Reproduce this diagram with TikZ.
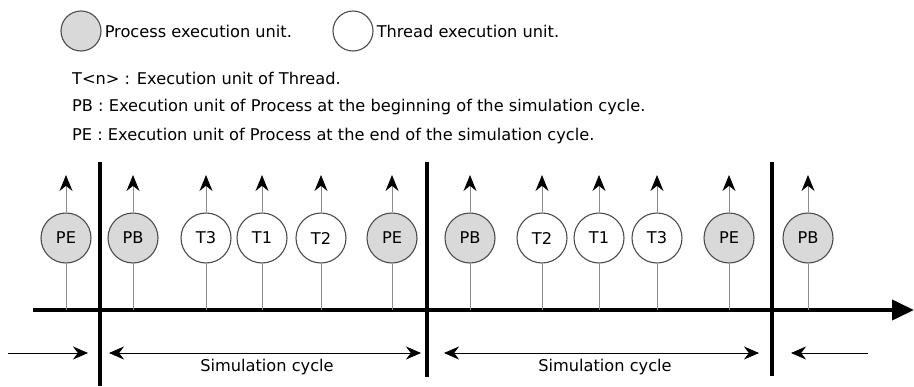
\documentclass[tikz,border=0pt]{standalone}
\usepackage{fontspec}
\setmainfont{DejaVu Sans}
\usetikzlibrary{arrows.meta}

\begin{document}
\begin{tikzpicture}[x=1pt, y=-1pt, font=\fontsize{16.2}{19}\selectfont]
  % Define colors
  \colorlet{procfill}{black!15}
  \colorlet{threadfill}{white}
  \colorlet{unitborder}{black!70}
  \colorlet{stemcolor}{black!45}

  % Styles
  \tikzset{
    unit/.style={circle, draw=unitborder, line width=1.1pt, minimum size=50pt, inner sep=0pt},
    legendunit/.style={unit, minimum size=40pt},
    stem/.style={draw=stemcolor, line width=1pt},
    upstem/.style={stem, -{Stealth[black, length=16pt, width=13pt]}},
    bar/.style={line width=4pt},
    span/.style={line width=0.9pt, {Stealth[length=15pt, width=13pt]}-{Stealth[length=15pt, width=13pt]}},
    side/.style={line width=0.9pt, -{Stealth[length=15pt, width=13pt]}},
    legendtext/.style={anchor=west, inner sep=3pt}
  }

  \useasboundingbox (0,0) rectangle (914,386);

  % Legend
  \node[legendunit, fill=procfill] (legproc) at (81,31) {};
  \node[legendtext] (legproctxt) at (legproc.east) {Process execution unit.};
  \node[legendunit, fill=threadfill] (legthread) at (353,31) {};
  \node[legendtext] (legthreadtxt) at (legthread.east) {Thread execution unit.};

  \node[legendtext] (descT) at (69,78) {T<n> : Execution unit of Thread.};
  \node[legendtext] (descPB) at (69,107) {PB : Execution unit of Process at the beginning of the simulation cycle.};
  \node[legendtext] (descPE) at (69,136) {PE : Execution unit of Process at the end of the simulation cycle.};

  % Time axis
  \coordinate (axstart) at (33,310);
  \coordinate (axend) at (914,310);
  \draw[bar, -{Stealth[length=22pt, width=20pt, inset=0pt]}] (axstart) -- (axend);

  % Cycle boundaries
  \coordinate (bnd1top) at (100,162);
  \coordinate (bnd1bot) at (100,386);
  \coordinate (bnd2top) at (427,162);
  \coordinate (bnd2bot) at (427,377);
  \coordinate (bnd3top) at (772,162);
  \coordinate (bnd3bot) at (772,376);
  \draw[bar] (bnd1top) -- (bnd1bot);
  \draw[bar] (bnd2top) -- (bnd2bot);
  \draw[bar] (bnd3top) -- (bnd3bot);

  % Execution units on the time axis
  \foreach \nm/\x/\txt/\fc in {pe0/66/PE/procfill, pb1/133/PB/procfill, t3a/206/T3/threadfill,
      t1a/262/T1/threadfill, t2a/321/T2/threadfill, pe1/392/PE/procfill,
      pb2/470/PB/procfill, t2b/542/T2/threadfill, t1b/599/T1/threadfill,
      t3b/657/T3/threadfill, pe2/729/PE/procfill, pb3/808/PB/procfill} {
    \node[unit, fill=\fc] (\nm) at (\x,238) {\txt};
    \coordinate (\nm-base) at (\x,310);
    \coordinate (\nm-top) at (\x,175);
    \draw[stem] (\nm-base) -- (\nm);
    \draw[upstem] (\nm) -- (\nm-top);
  }

  % Simulation cycles
  \coordinate (cyc1l) at (109,353);
  \coordinate (cyc1r) at (421,353);
  \coordinate (cyc2l) at (444,353);
  \coordinate (cyc2r) at (759,353);
  \draw[span] (cyc1l) -- (cyc1r);
  \draw[span] (cyc2l) -- (cyc2r);
  \node (cyc1lbl) at (267,367) {Simulation cycle};
  \node (cyc2lbl) at (605,367) {Simulation cycle};

  % Incoming arrows at the picture edges
  \coordinate (inleftfrom) at (8,353);
  \coordinate (inleftto) at (88,353);
  \coordinate (inrightfrom) at (868,353);
  \coordinate (inrightto) at (791,353);
  \draw[side] (inleftfrom) -- (inleftto);
  \draw[side] (inrightfrom) -- (inrightto);
\end{tikzpicture}
\end{document}
